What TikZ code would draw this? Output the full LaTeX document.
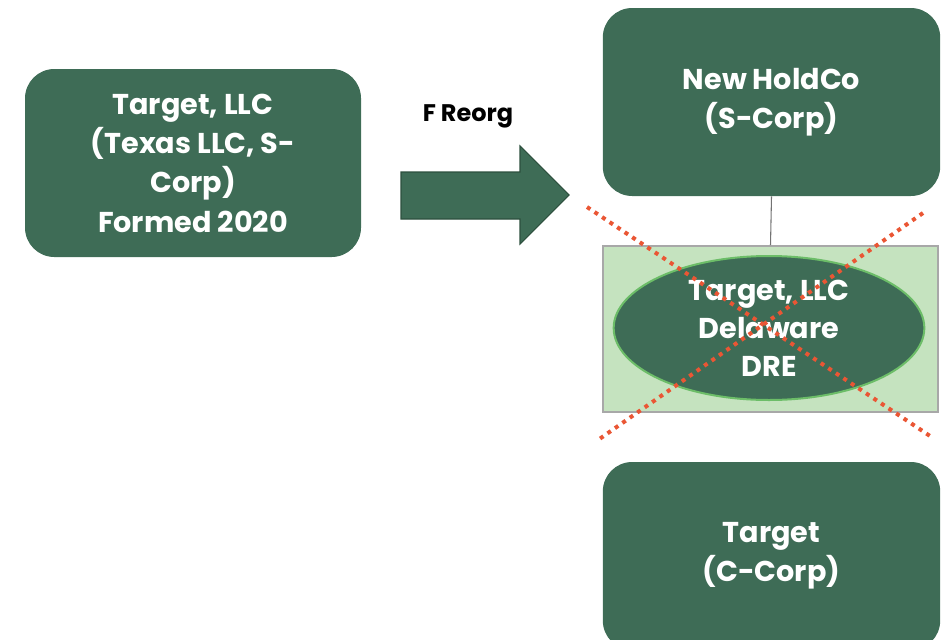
\documentclass[tikz,border=0pt]{standalone}
\usepackage{fontspec}
\setmainfont{Poppins}
\usetikzlibrary{shapes.geometric}
\definecolor{boxgreen}{RGB}{62,108,86}
\definecolor{arrowedge}{RGB}{45,80,62}
\definecolor{palegreen}{RGB}{197,227,191}
\definecolor{ringgreen}{RGB}{108,189,104}
\definecolor{framegray}{RGB}{168,168,168}
\definecolor{crossred}{RGB}{234,86,52}
\tikzset{
  entity/.style={draw=none, fill=boxgreen, rounded corners=22pt, text=white,
    font=\bfseries\fontsize{21.5}{29.5}\selectfont, align=center, inner sep=0pt},
  disregarded/.style={ellipse, draw=ringgreen, line width=1.5pt, fill=boxgreen, text=white,
    font=\bfseries\fontsize{21.5}{28.5}\selectfont, align=center, inner sep=0pt},
  holder/.style={draw=framegray, line width=1.4pt, fill=palegreen, inner sep=0pt},
  link/.style={draw=black!55, line width=0.8pt},
  strike/.style={draw=crossred, line width=3pt, dash pattern=on 3pt off 3.8pt},
}
\begin{document}
\begin{tikzpicture}[x=0.75pt, y=-0.75pt]
  \useasboundingbox (0,0) rectangle (941,639);
  \clip (0,0) rectangle (941,639);

  % pre-reorganisation entity
  \node[entity, minimum width=252pt, minimum height=141pt] (oldco) at (193,163)
    {Target, LLC\\(Texas LLC, S-\\Corp)\\Formed 2020};

  % reorganisation arrow
  \node[font=\bfseries\fontsize{18}{22}\selectfont] (reorg) at (468,116) {F Reorg};
  \draw[fill=boxgreen, draw=arrowedge, line width=0.8pt]
    (401,172) -- (520,172) -- (520,146) -- (569,195) -- (520,244) -- (520,219) -- (401,219) -- cycle;

  % post-reorganisation structure
  \node[entity, minimum width=253pt, minimum height=141pt] (holdco) at (771.5,102)
    {New HoldCo\\(S-Corp)};
  \node[holder, minimum width=251pt, minimum height=124.5pt] (dreframe) at (770.5,329) {};
  \node[disregarded, minimum width=233pt, minimum height=108pt] (dre) at (769,328)
    {Target, LLC\\Delaware\\DRE};
  \node[entity, minimum width=253pt, minimum height=141pt] (newtarget) at (771.5,556)
    {Target\\(C-Corp)};
  \draw[link] (holdco.south) -- (dreframe.north);

  % strike-through of the disregarded entity
  \coordinate (xa) at (587,207);
  \coordinate (xb) at (933,438);
  \coordinate (xc) at (923,213);
  \coordinate (xd) at (598,440);
  \draw[strike] (xa) -- (xb);
  \draw[strike] (xc) -- (xd);
\end{tikzpicture}
\end{document}
